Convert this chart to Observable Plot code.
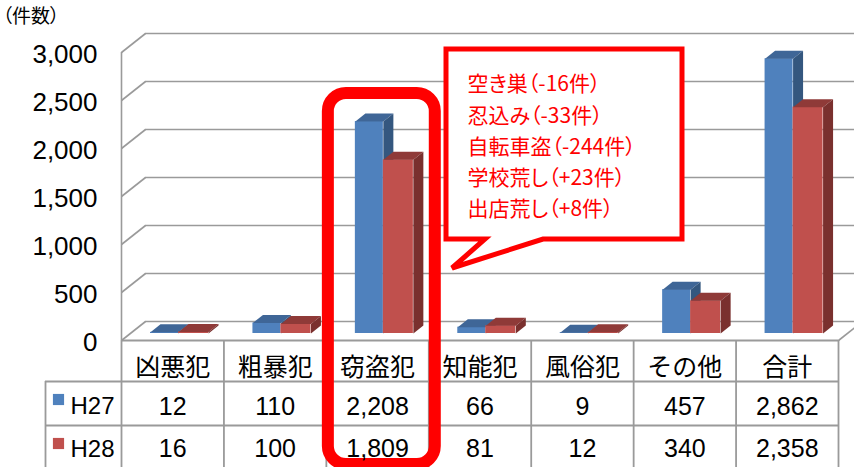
<!DOCTYPE html>
<html><head><meta charset="utf-8">
<script src="https://cdn.jsdelivr.net/npm/d3@7"></script>
<script src="https://cdn.jsdelivr.net/npm/@observablehq/plot@0.6"></script>
<style>
html,body{margin:0;padding:0;background:#fff;}
.palt{font-feature-settings:"palt";}
</style></head><body><div id="chart"></div>
<script>
const categories = ["凶悪犯","粗暴犯","窃盗犯","知能犯","風俗犯","その他","合計"];
const h27 = [12,110,2208,66,9,457,2862];
const h28 = [16,100,1809,81,12,340,2358];
const seriesNames = ["H27","H28"];
const yTicks = [0,500,1000,1500,2000,2500,3000];
const yLabels = ["0","500","1,000","1,500","2,000","2,500","3,000"];
const h27Labels = ["12","110","2,208","66","9","457","2,862"];
const h28Labels = ["16","100","1,809","81","12","340","2,358"];
const unitLabel = "（件数）";
const highlight = "窃盗犯";
const calloutLines = ["空き巣（-16件）","忍込み（-33件）","自転車盗（-244件）","学校荒し（+23件）","出店荒し（+8件）"];

const W = 854, H = 467;
const xRange = [121, 838], yRange = [340, 52];
const n = categories.length;
const kx = (xRange[1] - xRange[0]) / n;
const ky = (yRange[0] - yRange[1]) / 3000;
const px = p => p / kx, py = p => p / ky;
const wallDX = 24, wallDY = 19, barDY = 7, faceDX = 10, faceDY = 8;
const grid = "#9a9a9a";
const CJK = "'Noto Sans CJK JP', 'Noto Sans CJK SC', sans-serif";
const NUM = "'Liberation Sans', Arial, sans-serif";

const series = [
  {values: h27, front: "#4F81BD", top: "#3F6697", side: "#34577F", inL: 29, inR: 57},
  {values: h28, front: "#C0504D", top: "#8F3A38", side: "#7A302E", inL: 57, inR: 87}
];

function barMarks(s) {
  const tops = [], sides = [];
  s.values.forEach((v, i) => {
    const xl = i + px(s.inL), xr = i + px(s.inR), ox = px(faceDX), oy = py(faceDY);
    [[xl, v], [xr, v], [xr + ox, v + oy], [xl + ox, v + oy]].forEach(([x, y]) => tops.push({k: i, x, y}));
    [[xr, 0], [xr, v], [xr + ox, v + oy], [xr + ox, oy]].forEach(([x, y]) => sides.push({k: i, x, y}));
  });
  return [
    Plot.rect(s.values, {x1: (d, i) => i, x2: (d, i) => i + 1, y1: 0, y2: d => d,
      insetLeft: s.inL, insetRight: kx - s.inR, dy: -barDY, fill: s.front}),
    Plot.line(tops, {x: "x", y: "y", z: "k", fill: s.top, stroke: "none", curve: "linear-closed", dy: -barDY}),
    Plot.line(sides, {x: "x", y: "y", z: "k", fill: s.side, stroke: "none", curve: "linear-closed", dy: -barDY})
  ];
}

const callout = () => d3.create("svg:path")
  .attr("d", "M446,49H682V239H543L452,268L485,239H446Z")
  .attr("fill", "#fff").attr("stroke", "#FF0000").attr("stroke-width", 5)
  .attr("stroke-linejoin", "miter").node();

const chart = Plot.plot({
  width: W, height: H, margin: 0,
  x: {type: "linear", domain: [0, n], range: xRange, axis: null},
  y: {type: "linear", domain: [0, 3000], range: yRange, axis: null},
  style: {fontFamily: NUM, background: "#fff", color: "#000"},
  marks: [
    // back wall gridlines & floor back edge
    Plot.ruleY(yTicks, {x1: 0, x2: n + px(40), dx: wallDX, dy: -wallDY, stroke: grid, strokeWidth: 1.6}),
    // side wall diagonals
    Plot.link(yTicks, {x1: 0, y1: d => d, x2: px(wallDX), y2: d => d + py(wallDY), stroke: grid, strokeWidth: 1.6}),
    Plot.ruleX([0], {y1: 0, y2: 3000, stroke: grid, strokeWidth: 1.6}),
    Plot.link([0], {x1: n, y1: 0, x2: n + px(wallDX), y2: py(wallDY), stroke: grid, strokeWidth: 1.6}),
    Plot.ruleY([0], {x1: 0, x2: n, stroke: grid, strokeWidth: 1.8}),
    // bars
    ...barMarks(series[0]),
    ...barMarks(series[1]),
    // y tick labels
    Plot.text(yTicks, {x: 0, y: d => d, dx: -24, dy: 2, textAnchor: "end", text: (d, i) => yLabels[i], fontSize: 26, fontFamily: NUM}),
    // table lines
    Plot.ruleX(d3.range(n + 1), {insetTop: yRange[0], stroke: grid, strokeWidth: 1.8}),
    Plot.ruleX([0], {dx: -76, insetTop: 381, stroke: grid, strokeWidth: 1.8}),
    Plot.ruleY([0], {dy: 41, insetLeft: 45, insetRight: W - xRange[1], stroke: grid, strokeWidth: 1.8}),
    Plot.ruleY([0], {dy: 85, insetLeft: 45, insetRight: W - xRange[1], stroke: grid, strokeWidth: 1.8}),
    // highlight box (under the table text)
    Plot.rect([highlight], {x1: d => categories.indexOf(d), x2: d => categories.indexOf(d) + 1,
      insetLeft: 2, insetRight: -6.5, insetTop: 93, insetBottom: 3, rx: 18,
      fill: "none", stroke: "#FF0000", strokeWidth: 12}),
    // table texts
    Plot.text(categories, {x: (d, i) => i + 0.5, y: 0, dy: 27.5, text: d => d, fontSize: 25, fontFamily: CJK}),
    Plot.text(h27Labels, {x: (d, i) => i + 0.5, y: 0, dy: 66, text: d => d, fontSize: 25, fontFamily: NUM}),
    Plot.text(h28Labels, {x: (d, i) => i + 0.5, y: 0, dy: 108, text: d => d, fontSize: 25, fontFamily: NUM}),
    Plot.dot([seriesNames[0]], {x: 0, y: 0, dx: -63, dy: 59, symbol: "square", r: 6.3, fill: series[0].front}),
    Plot.dot([seriesNames[1]], {x: 0, y: 0, dx: -63, dy: 103, symbol: "square", r: 6.3, fill: series[1].front}),
    Plot.text([seriesNames[0]], {x: 0, y: 0, dx: -51, dy: 66, textAnchor: "start", text: d => d, fontSize: 24, fontFamily: NUM}),
    Plot.text([seriesNames[1]], {x: 0, y: 0, dx: -51, dy: 109, textAnchor: "start", text: d => d, fontSize: 24, fontFamily: NUM}),
    // unit label
    Plot.text([unitLabel], {frameAnchor: "top-left", dx: 2, dy: 16, textAnchor: "start", lineAnchor: "middle", text: d => d, fontSize: 19, fontFamily: CJK, className: "palt"}),
    // callout
    callout,
    ...calloutLines.map((t, i) => Plot.text([t], {frameAnchor: "top-left", dx: 467, dy: 84 + i * 31.3,
      textAnchor: "start", lineAnchor: "middle", text: d => d, fontSize: 21, fontFamily: CJK, fill: "#FF0000", className: "palt"}))
  ]
});
document.getElementById("chart").appendChild(chart);
</script></body></html>
